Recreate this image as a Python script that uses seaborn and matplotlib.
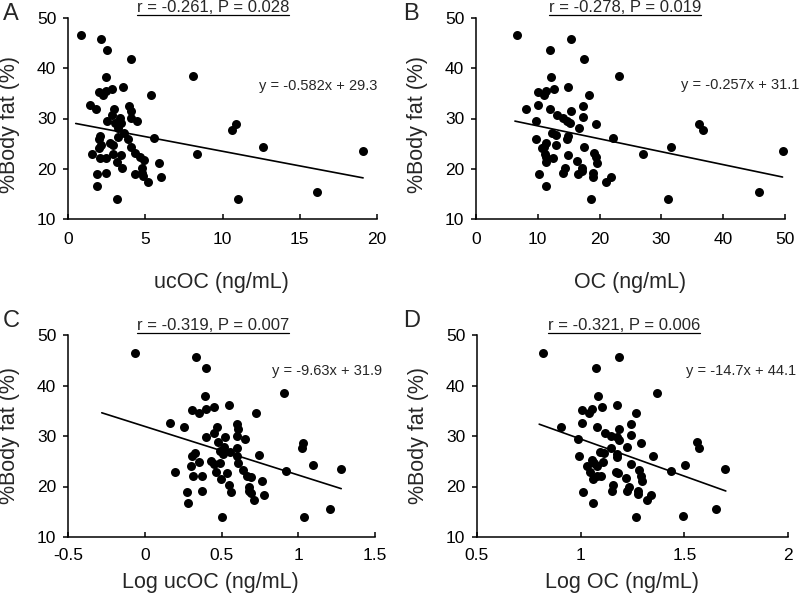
import matplotlib
matplotlib.use("Agg")
import matplotlib.pyplot as plt
import numpy as np
import pandas as pd
import seaborn as sns

sns.set_style("ticks")
plt.rcParams["font.family"] = ["Liberation Sans", "DejaVu Sans"]
plt.rcParams["axes.unicode_minus"] = False

# ---- panel A: ucOC (ng/mL) vs %body fat
ucoc_a = [0.86, 2.16, 2.53, 4.11, 8.11, 2.49, 3.57, 2.88, 2.49, 2.01, 2.27, 5.36,
          1.45, 1.84, 3.96, 4.11, 2.96, 2.88, 3.35, 4.11, 4.48, 2.53, 3.03, 3.46,
          10.6, 10.9, 3.24, 3.61, 3.26, 3.89, 5.56, 2.10, 2.01, 2.70, 2.16, 2.92,
          1.99, 4.11, 12.6, 19.1, 4.32, 8.37, 1.58, 2.92, 3.46, 2.05, 2.44, 4.65,
          4.91, 3.14, 5.86, 3.52, 4.82, 4.82, 1.90, 2.44, 4.32, 4.86, 6.03, 5.17,
          1.90, 3.18, 10.98, 16.1]
fat_a = [46.7, 45.8, 43.6, 41.9, 38.5, 38.2, 36.2, 35.8, 35.5, 35.2, 34.7, 34.6,
         32.6, 31.9, 32.4, 31.4, 31.9, 30.7, 30.1, 30.1, 29.6, 29.6, 29.2, 29.1,
         27.7, 28.9, 28.1, 27.1, 26.4, 25.9, 26.2, 26.5, 25.9, 25.2, 24.8, 24.8,
         24.1, 24.4, 24.3, 23.6, 23.2, 23.0, 22.9, 23.0, 22.8, 22.1, 22.1, 22.3,
         21.8, 21.4, 21.1, 20.1, 20.1, 19.2, 19.0, 19.1, 19.0, 18.6, 18.4, 17.4,
         16.6, 13.9, 14.0, 15.4]

# ---- panel B: OC (ng/mL) vs %body fat
oc_b = [6.58, 15.3, 11.9, 17.5, 23.1, 12.1, 14.9, 12.7, 11.3, 10.1, 11.0, 18.3,
        8.1, 10.1, 17.3, 15.3, 12.0, 13.1, 14.1, 17.3, 19.4, 9.7, 14.8, 15.2,
        36.1, 36.7, 16.7, 12.3, 14.9, 12.9, 22.1, 9.7, 11.4, 14.7, 11.0, 12.9,
        10.6, 17.4, 31.6, 49.6, 19.1, 27.1, 11.2, 14.9, 12.5, 11.4, 19.4, 16.3,
        19.6, 11.4, 17.1, 14.4, 17.1, 10.2, 14.0, 18.9, 18.9, 21.8, 21.0, 16.5,
        11.4, 18.6, 31.0, 45.8]
fat_b = [46.7, 45.8, 43.6, 41.8, 38.5, 38.2, 36.2, 35.8, 35.5, 35.2, 34.7, 34.6,
         31.9, 32.6, 32.4, 31.4, 31.9, 30.7, 30.1, 30.2, 28.9, 29.6, 29.6, 29.2,
         28.9, 27.7, 28.1, 27.1, 26.5, 26.7, 26.2, 25.9, 25.2, 25.9, 24.4, 24.8,
         24.1, 24.4, 24.3, 23.6, 23.2, 23.0, 22.9, 22.8, 22.1, 22.4, 22.3, 21.6,
         21.1, 21.4, 20.1, 20.1, 19.6, 19.0, 19.1, 19.2, 18.4, 18.4, 17.3, 19.0,
         16.6, 13.9, 14.0, 15.4]

# ---- panel C: log ucOC vs %body fat
logucoc_c = [-0.065, 0.333, 0.398, 0.909, 0.391, 0.550, 0.452, 0.309, 0.398, 0.352,
             0.728, 0.163, 0.257, 0.472, 0.598, 0.609, 0.402, 0.452, 0.522, 0.598,
             0.652, 0.478, 0.517, 0.598, 0.489, 0.554, 0.746, 0.507, 0.328, 0.309,
             0.598, 0.354, 0.300, 0.430, 0.450, 0.489, 0.609, 0.641, 0.920, 1.276,
             1.098, 1.026, 1.033, 0.198, 0.463, 0.537, 0.663, 0.315, 0.376, 0.689,
             0.498, 0.763, 0.546, 0.680, 0.680, 0.689, 0.278, 0.376, 0.565, 0.778,
             0.711, 0.283, 0.502, 1.037, 1.207]
fat_c = [46.5, 45.6, 43.4, 38.5, 38.0, 36.2, 35.8, 35.2, 35.3, 34.5,
         34.5, 32.5, 31.8, 31.8, 32.3, 31.4, 29.8, 30.6, 29.9, 30.0,
         29.5, 28.9, 27.9, 27.7, 27.1, 26.9, 26.2, 26.5, 26.6, 26.0,
         26.1, 24.8, 24.1, 25.0, 24.4, 24.6, 24.6, 23.2, 23.0, 23.5,
         24.2, 27.6, 28.7, 22.8, 22.9, 22.7, 22.1, 22.1, 22.0, 21.8,
         21.4, 21.0, 20.2, 20.0, 19.2, 18.7, 18.9, 19.1, 18.9, 18.4,
         17.4, 16.7, 14.0, 14.0, 15.5]

# ---- panel D: log OC vs %body fat
logoc_d = [0.818, 1.185, 1.074, 1.366, 1.086, 1.177, 1.102, 1.005, 1.053, 1.042,
           1.265, 0.907, 1.005, 1.077, 1.241, 1.185, 0.986, 1.117, 1.145, 1.241,
           1.289, 1.177, 1.185, 1.559, 1.570, 1.145, 1.222, 1.094, 1.113, 1.174,
           1.177, 1.347, 0.991, 1.053, 1.064, 1.109, 1.032, 1.077, 1.241, 1.503,
           1.698, 1.434, 1.283, 1.171, 1.181, 1.045, 1.077, 1.097, 1.289, 1.217,
           1.294, 1.061, 1.158, 1.232, 1.222, 1.149, 1.010, 1.276, 1.276, 1.337,
           1.318, 1.059, 1.268, 1.495, 1.651]
fat_d = [46.5, 45.6, 43.4, 38.5, 38.0, 36.2, 35.8, 35.2, 35.3, 34.5,
         34.5, 31.8, 32.5, 31.8, 32.3, 31.4, 29.4, 30.6, 30.0, 30.2,
         28.7, 29.8, 29.2, 28.9, 27.7, 27.7, 27.9, 26.8, 26.6, 26.5,
         25.8, 26.1, 26.0, 25.3, 24.6, 24.8, 24.0, 24.0, 24.4, 24.2,
         23.5, 23.0, 23.3, 22.9, 22.7, 22.9, 22.1, 22.0, 22.1, 21.7,
         21.0, 21.5, 20.2, 20.0, 19.2, 19.1, 18.9, 19.2, 18.6, 18.4,
         17.4, 16.7, 14.0, 14.1, 15.5]

letters = ["A", "B", "C", "D"]
xlabels = ["ucOC (ng/mL)", "OC (ng/mL)", "Log ucOC (ng/mL)", "Log OC (ng/mL)"]
stats = ["r = -0.261, P = 0.028", "r = -0.278, P = 0.019",
         "r = -0.319, P = 0.007", "r = -0.321, P = 0.006"]
equations = ["y = -0.582x + 29.3", "y = -0.257x + 31.1",
             "y = -9.63x + 31.9", "y = -14.7x + 44.1"]
slopes = [-0.582, -0.257, -9.63, -14.7]
intercepts = [29.3, 31.1, 31.9, 44.1]
fit_range = [(0.5, 19.1), (6.3, 49.6), (-0.28, 1.28), (0.80, 1.70)]
xlims = [(0, 20), (0, 50), (-0.5, 1.5), (0.5, 2)]
xticks = [[0, 5, 10, 15, 20], [0, 10, 20, 30, 40, 50],
          [-0.5, 0, 0.5, 1, 1.5], [0.5, 1, 1.5, 2]]
yticks = [10, 20, 30, 40, 50]

panels = [(ucoc_a, fat_a), (oc_b, fat_b), (logucoc_c, fat_c), (logoc_d, fat_d)]

W, H = 800, 608
fig = plt.figure(figsize=(8, 6.08), dpi=100)

# axes boxes in pixels: left, right, top, bottom
boxes = [(68, 377, 18, 219), (476, 785, 18, 219),
         (68, 375, 335, 537), (477, 788, 335, 537)]
eq_pos = [(20.0, 36.5), (52.4, 36.6), (1.545, 42.9), (2.04, 42.9)]
title_pos = [(213, 12), (625, 12), (213, 330), (624, 330)]
letter_pos = [(3, 20), (403, 20), (3, 327), (403, 327)]
xlab_y = [-0.264, -0.264, -0.173, -0.173]
xlab_x = [0.497, 0.5, 0.465, 0.465]
ylab_y = [0.47, 0.47, 0.5, 0.5]
tick_pad = [9, 9, 8, 8]

titles = []
for i, (xv, yv) in enumerate(panels):
    l, r, t, b = boxes[i]
    ax = fig.add_axes([l / W, 1 - b / H, (r - l) / W, (b - t) / H])
    df = pd.DataFrame({"x": xv, "y": yv})
    sns.scatterplot(data=df, x="x", y="y", ax=ax, color="black", s=42,
                    linewidth=0, zorder=3, clip_on=False)
    x0, x1 = fit_range[i]
    line = pd.DataFrame({"x": [x0, x1]})
    line["y"] = slopes[i] * line["x"] + intercepts[i]
    sns.lineplot(data=line, x="x", y="y", ax=ax, color="black", linewidth=1.2)

    ax.set_xlim(*xlims[i])
    ax.set_ylim(10, 50)
    ax.set_xticks(xticks[i])
    ax.set_xticklabels(["%g" % v for v in xticks[i]])
    ax.set_yticks(yticks)
    sns.despine(ax=ax)
    for s in ["left", "bottom"]:
        ax.spines[s].set_linewidth(1.1)
        ax.spines[s].set_color("black")
    ax.tick_params(axis="x", direction="in", length=3.5, width=1.1,
                   labelsize=12.5, pad=tick_pad[i], colors="black")
    ax.tick_params(axis="y", direction="out", length=3.5, width=1.1,
                   labelsize=12.5, pad=5, colors="black")
    ax.set_xlabel(xlabels[i], fontsize=15.5)
    ax.set_ylabel("%Body fat (%)", fontsize=15.5)
    ax.xaxis.set_label_coords(xlab_x[i], xlab_y[i])
    ax.yaxis.set_label_coords(-0.155, ylab_y[i])

    ax.text(eq_pos[i][0], eq_pos[i][1], equations[i], fontsize=10.5,
            ha="right", va="center", clip_on=False)

    tx, ty = title_pos[i]
    titles.append(fig.text(tx / W, 1 - ty / H, stats[i], fontsize=12,
                           ha="center", va="baseline"))
    lx, ly = letter_pos[i]
    fig.text(lx / W, 1 - ly / H, letters[i], fontsize=17, ha="left",
             va="baseline")

# underline the r/P statistics
fig.canvas.draw()
renderer = fig.canvas.get_renderer()
for i, txt in enumerate(titles):
    bb = txt.get_window_extent(renderer)
    uy = 1 - (title_pos[i][1] + 2.5) / H
    fig.add_artist(plt.Line2D([bb.x0 / W, bb.x1 / W], [uy, uy],
                              color="black", linewidth=0.9))

fig.savefig("out.png", dpi=100)
